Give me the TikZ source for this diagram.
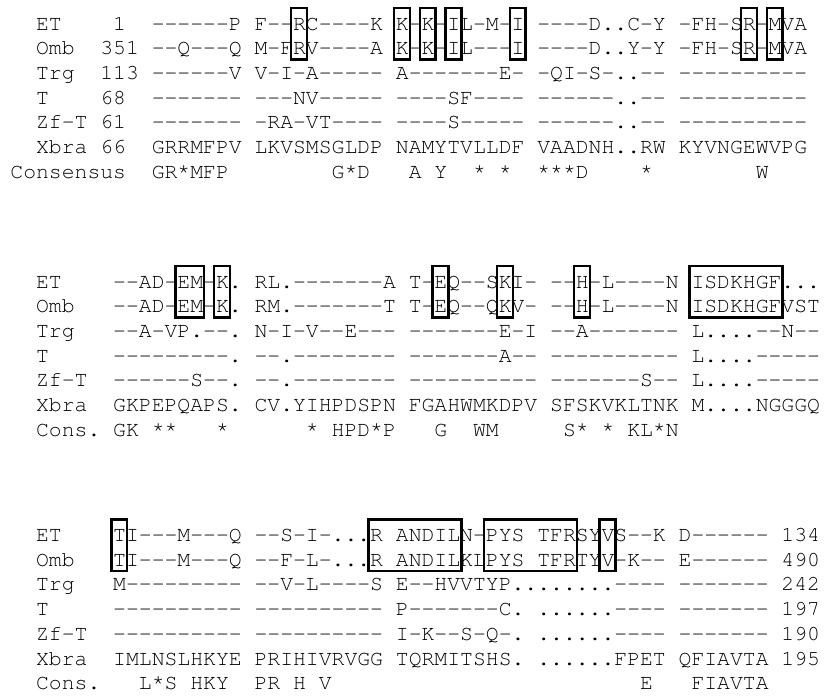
\documentclass[tikz,border=0pt]{standalone}
\usepackage{tikz}

% raw Courier, which has no -- ligature
\font\seqfont=pcrr8r at 10.71pt
\tikzset{
  seqline/.style={anchor=base west,inner sep=0pt,font=\seqfont},
  hilite/.style={draw,line width=1.2pt}
}
% box round columns #1..#2 of the ET and Omb lines of a block
\newcommand\boxcols[2]{\draw[hilite] ({10+#1*12.852-1.5},8) rectangle ({10+(#2+1)*12.852+1.5},59.5);}

\begin{document}
\begin{tikzpicture}[x=0.5pt,y=-0.5pt]
\useasboundingbox (0,0) rectangle (831,697);

\begin{scope}[local bounding box=B1]
  \node[seqline] (et1) at (10,30) {~~ET~~~~1~~------P~F--RC----K~K-K-IL-M-I~----D..C-Y~-FH-SR-MVA};
  \node[seqline] (omb1) at (10,54.7) {~~Omb~~351~--Q---Q~M-FRV----A~K-K-IL---I~----D..Y-Y~-FH-SR-MVA};
  \node[seqline] (trg1) at (10,79.4) {~~Trg~~113~------V~V-I-A-----~A-------E-~-QI-S-..--~----------};
  \node[seqline] (t1) at (10,104.1) {~~T~~~~68~~-------~---NV-----~----SF----~------..--~----------};
  \node[seqline] (zft1) at (10,128.8) {~~Zf-T~61~~-------~-RA-VT----~----S-----~------..--~----------};
  \node[seqline] (xbra1) at (10,153.5) {~~Xbra~66~~GRRMFPV~LKVSMSGLDP~NAMYTVLLDF~VAADNH..RW~KYVNGEWVPG};
  \node[seqline] (cons1) at (10,178.2) {Consensus~~GR*MFP~~~~~~~~G*D~~~A~Y~~*~*~~***D~~~~*~~~~~~~~W};
  \boxcols{22}{22} \boxcols{30}{30} \boxcols{32}{32} \boxcols{34}{34}
  \boxcols{39}{39} \boxcols{57}{57} \boxcols{59}{59}
\end{scope}

\begin{scope}[yshift=-129pt]
  \node[seqline] (et2) at (10,30) {~~ET~~~~--AD-EM-K.~RL.-------A~T-EQ--SKI-~--H-L----N~ISDKHGF...};
  \node[seqline] (omb2) at (10,54.7) {~~Omb~~~--AD-EM-K.~RM.-------T~T-EQ--QKV-~--H-L----N~ISDKHGFVST};
  \node[seqline] (trg2) at (10,79.4) {~~Trg~~~--A-VP.--.~N-I-V--E---~-------E-I~--A-------~L....--N--};
  \node[seqline] (t2) at (10,104.1) {~~T~~~~~---------.~--.--------~-------A--~----------~L....-----};
  \node[seqline] (zft2) at (10,128.8) {~~Zf-T~~------S--.~--.--------~----------~-------S--~L....-----};
  \node[seqline] (xbra2) at (10,153.5) {~~Xbra~~GKPEPQAPS.~CV.YIHPDSPN~FGAHWMKDPV~SFSKVKLTNK~M....NGGGQ};
  \node[seqline] (cons2) at (10,178.2) {~~Cons.~GK~**~~~*~~~~~~*~HPD*P~~~G~~WM~~~~~S*~*~KL*N};
  \boxcols{13}{14} \boxcols{16}{16} \boxcols{33}{33} \boxcols{38}{38}
  \boxcols{44}{44} \boxcols{53}{59}
\end{scope}

\begin{scope}[yshift=-255.75pt]
  \node[seqline] (et3) at (10,30) {~~ET~~~~TI---M---Q~--S-I-...R~ANDILN-PYS~TFRSYVS--K~D------~134};
  \node[seqline] (omb3) at (10,54.7) {~~Omb~~~TI---M---Q~--F-L-...R~ANDILKLPYS~TFRTYV-K--~E------~490};
  \node[seqline] (trg3) at (10,79.4) {~~Trg~~~M---------~--V-L----S~E--HVVTYP........----~-------~242};
  \node[seqline] (t3) at (10,104.1) {~~T~~~~~----------~----------~P-------C.~......----~-------~197};
  \node[seqline] (zft3) at (10,128.8) {~~Zf-T~~----------~----------~I-K--S-Q-.~......----~-------~190};
  \node[seqline] (xbra3) at (10,153.5) {~~Xbra~~IMLNSLHKYE~PRIHIVRVGG~TQRMITSHS.~......FPET~QFIAVTA~195};
  \node[seqline] (cons3) at (10,178.2) {~~Cons.~~~L*S~HKY~~PR~H~V~~~~~~~~~~~~~~~~~~~~~~~~E~~~FIAVTA};
  \boxcols{8}{8} \boxcols{28}{34} \boxcols{37}{43} \boxcols{46}{46}
\end{scope}
\end{tikzpicture}
\end{document}
